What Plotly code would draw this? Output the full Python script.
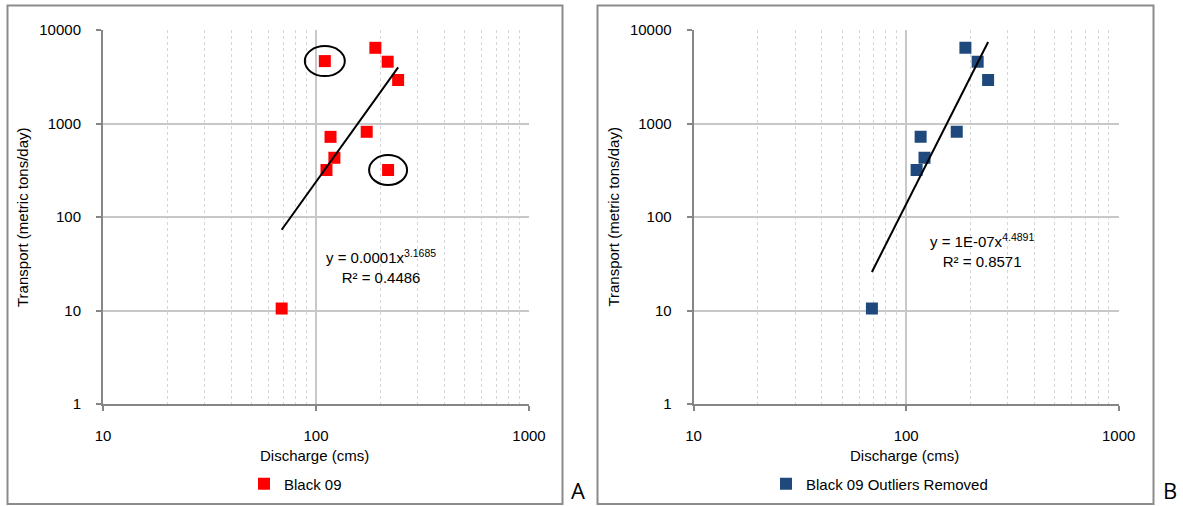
import numpy as np
import plotly.graph_objects as go

# ---------------- data ----------------
discharge_a = [110, 190, 217, 243, 117, 173, 122, 112, 218, 69]
transport_a = [4650, 6450, 4580, 2920, 720, 815, 430, 318, 318, 10.5]
# the two circled outliers in panel A
outlier_x = [110, 218]
outlier_y = [4650, 318]

discharge_b = [190, 217, 243, 117, 173, 122, 112, 69]
transport_b = [6450, 4580, 2920, 720, 815, 430, 318, 10.5]

x_ticks = [10, 100, 1000]
x_ticktext = ["10", "100", "1000"]
x_minor = [20, 30, 40, 50, 60, 70, 80, 90, 200, 300, 400, 500, 600, 700, 800, 900]
y_ticks = [1, 10, 100, 1000, 10000]
y_ticktext = ["1", "10", "100", "1000", "10000"]

name_a = "Black 09"
name_b = "Black 09 Outliers Removed"
eq_a = "y = 0.0001x<sup>3.1685</sup><br>R² = 0.4486"
eq_b = "y = 1E-07x<sup>4.4891</sup><br>R² = 0.8571"

RED = "#FF0000"
BLUE = "#1F497D"
FONT = "Liberation Sans, Arial, sans-serif"
FS = 15
W, H = 1183, 506

PLOT_TOP, PLOT_BOTTOM = 30, 404
A_LEFT, A_RIGHT = 103, 529
B_LEFT, B_RIGHT = 693.6, 1118.7


def power_fit(x, y):
    slope, inter = np.polyfit(np.log10(x), np.log10(y), 1)
    xs = np.array([min(x), max(x)], dtype=float)
    return xs, (10 ** inter) * xs ** slope


fig = go.Figure()

fa_x, fa_y = power_fit(discharge_a, transport_a)
fb_x, fb_y = power_fit(discharge_b, transport_b)

fig.add_trace(go.Scatter(x=discharge_a, y=transport_a, mode="markers", name=name_a,
                         marker=dict(symbol="square", size=12, color=RED),
                         xaxis="x", yaxis="y", legend="legend"))
fig.add_trace(go.Scatter(x=fa_x, y=fa_y, mode="lines", showlegend=False,
                         line=dict(color="black", width=2), xaxis="x", yaxis="y"))
fig.add_trace(go.Scatter(x=discharge_b, y=transport_b, mode="markers", name=name_b,
                         marker=dict(symbol="square", size=12, color=BLUE),
                         xaxis="x2", yaxis="y2", legend="legend2"))
fig.add_trace(go.Scatter(x=fb_x, y=fb_y, mode="lines", showlegend=False,
                         line=dict(color="black", width=2), xaxis="x2", yaxis="y2"))

AX = "#868686"
GRID = "#C8C8C8"
MINOR = "#D6D6D6"


def xaxis_cfg(domain, anchor):
    return dict(type="log", range=[1, 3], domain=domain, anchor=anchor, automargin=False,
                showline=True, linecolor=AX, linewidth=2,
                ticks="outside", ticklen=5, tickwidth=2, tickcolor=AX,
                tickvals=x_ticks, ticktext=x_ticktext,
                showgrid=True, gridcolor=GRID, gridwidth=1.5,
                minor=dict(tickmode="array", tickvals=x_minor, showgrid=True,
                           gridcolor=MINOR, griddash="dot", gridwidth=1, ticks=""),
                zeroline=False, ticklabelstandoff=12,
                tickfont=dict(family=FONT, size=FS, color="black"))


def yaxis_cfg(anchor):
    return dict(type="log", range=[0, 4], domain=[1 - PLOT_BOTTOM / H, 1 - PLOT_TOP / H],
                anchor=anchor, automargin=False,
                showline=True, linecolor=AX, linewidth=2,
                ticks="outside", ticklen=5, tickwidth=2, tickcolor=AX,
                tickvals=y_ticks, ticktext=y_ticktext,
                showgrid=True, gridcolor=GRID, gridwidth=1.5,
                zeroline=False, ticklabelstandoff=12,
                tickfont=dict(family=FONT, size=FS, color="black"))


annotations = []
shapes = []


def px_x(p):
    return p / W


def px_y(p):
    return 1 - p / H


for (xl, xr, bl, br, eq, eqx, eqy, letter, lx) in [
    (A_LEFT, A_RIGHT, 7.5, 562.5, eq_a, 381, 266, "A", 578),
    (B_LEFT, B_RIGHT, 597.5, 1153.5, eq_b, 982, 250, "B", 1170),
]:
    cx = (xl + xr) / 2
    annotations.append(dict(text="Discharge (cms)", x=px_x(cx - 2), y=px_y(455), xref="paper", yref="paper",
                            showarrow=False, xanchor="center", yanchor="middle",
                            font=dict(family=FONT, size=FS, color="black")))
    annotations.append(dict(text="Transport (metric tons/day)", x=px_x(xl - 80), y=px_y(217),
                            xref="paper", yref="paper", textangle=-90, showarrow=False,
                            xanchor="center", yanchor="middle",
                            font=dict(family=FONT, size=FS, color="black")))
    annotations.append(dict(text=eq, x=px_x(eqx), y=px_y(eqy), xref="paper", yref="paper",
                            showarrow=False, align="center", xanchor="center", yanchor="middle",
                            font=dict(family=FONT, size=FS, color="black")))
    annotations.append(dict(text=letter, x=px_x(lx), y=px_y(490), xref="paper", yref="paper",
                            showarrow=False, xanchor="center", yanchor="middle",
                            font=dict(family="Open Sans, Liberation Sans, sans-serif", size=22, color="black")))
    shapes.append(dict(type="rect", xref="paper", yref="paper",
                       x0=px_x(bl), x1=px_x(br), y0=px_y(504), y1=px_y(5.5),
                       line=dict(color="#8C8C8C", width=2), fillcolor="rgba(0,0,0,0)"))

# ellipses around the outliers (data coordinates on the log axes)
x_decade_px = (A_RIGHT - A_LEFT) / 2
y_decade_px = (PLOT_BOTTOM - PLOT_TOP) / 4
for ox, oy, rx, ry in [(outlier_x[0], outlier_y[0], 20, 15), (outlier_x[1], outlier_y[1], 19, 15)]:
    fx = 10 ** (rx / x_decade_px)
    fy = 10 ** (ry / y_decade_px)
    shapes.append(dict(type="circle", xref="x", yref="y",
                       x0=ox / fx, x1=ox * fx, y0=oy / fy, y1=oy * fy,
                       line=dict(color="black", width=2)))

fig.update_layout(
    width=W, height=H,
    margin=dict(l=0, r=0, t=0, b=0, autoexpand=False),
    paper_bgcolor="white", plot_bgcolor="white",
    xaxis=xaxis_cfg([A_LEFT / W, A_RIGHT / W], "y"),
    yaxis=yaxis_cfg("x"),
    xaxis2=xaxis_cfg([B_LEFT / W, B_RIGHT / W], "y2"),
    yaxis2=yaxis_cfg("x2"),
    legend=dict(x=px_x(244), y=px_y(484), xanchor="left", yanchor="middle",
                orientation="h", bgcolor="rgba(0,0,0,0)", itemwidth=30,
                font=dict(family=FONT, size=FS, color="black")),
    legend2=dict(x=px_x(766), y=px_y(484), xanchor="left", yanchor="middle",
                 orientation="h", bgcolor="rgba(0,0,0,0)", itemwidth=30,
                 font=dict(family=FONT, size=FS, color="black")),
    annotations=annotations,
    shapes=shapes,
    showlegend=True,
)

fig.write_html("out.html", config={"displayModeBar": False},
               post_script="document.body.style.margin='0';document.body.style.overflow='hidden';")
